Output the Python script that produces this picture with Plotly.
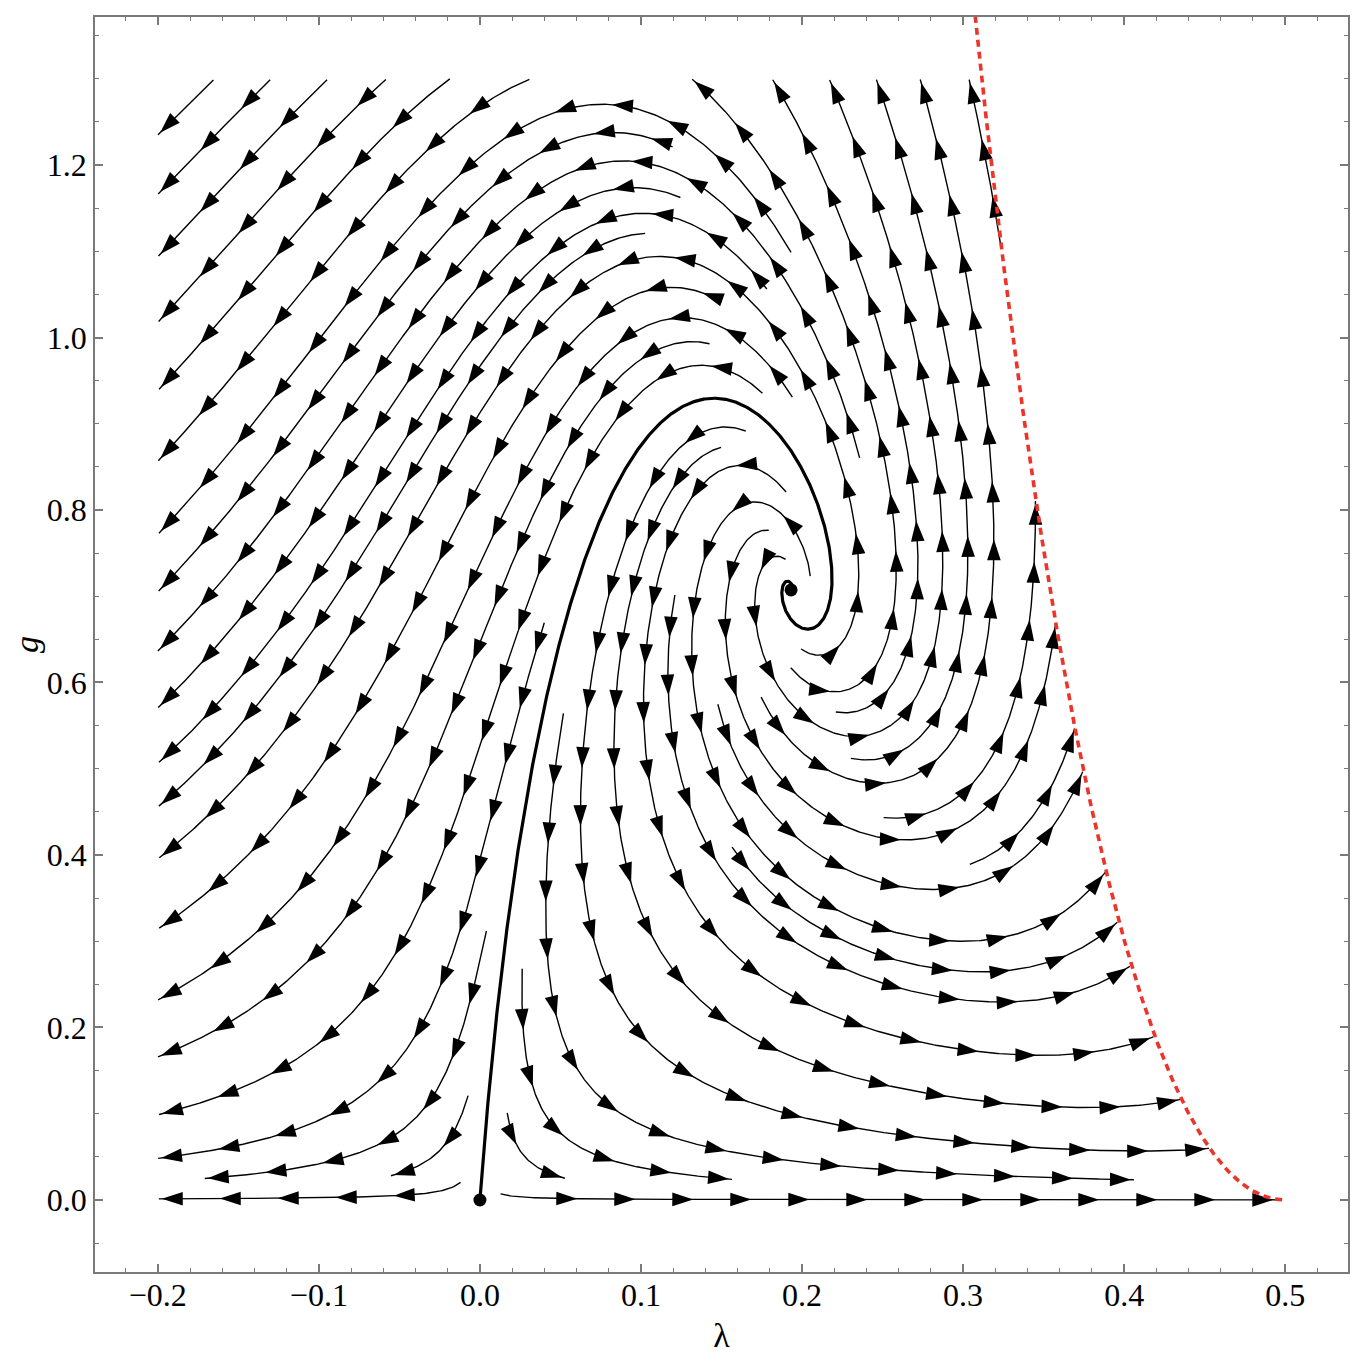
import math
import plotly.graph_objects as go

# ---------------- data ----------------
LAMBDA_RANGE = [-0.239, 0.539]
G_RANGE = [-0.0835, 1.3716]
STREAM_LAMBDA = [-0.2, 0.5]
STREAM_G = [0.0, 1.3]
X_TICK_VALUES = [-0.2, -0.1, 0.0, 0.1, 0.2, 0.3, 0.4, 0.5]
X_TICK_LABELS = ["\u22120.2", "\u22120.1", "0.0", "0.1", "0.2", "0.3", "0.4", "0.5"]
Y_TICK_VALUES = [0.0, 0.2, 0.4, 0.6, 0.8, 1.0, 1.2]
Y_TICK_LABELS = ["0.0", "0.2", "0.4", "0.6", "0.8", "1.0", "1.2"]
FIXED_LAMBDA = [0.0, 0.193]     # Gaussian and non-Gaussian fixed points
FIXED_G = [0.0, 0.707]
SEED_LAMBDA = [-0.1, 0.3, 0.1]
SEED_G = [0.6, 0.3, 1.1]
# Einstein-Hilbert truncation (optimized cutoff) coefficients, w = 1 - 2*lambda
B1_TERMS = [5.0, -9.0, -7.0]    # (1/3pi) * (a/w + b/w^2 + c)
B2_TERMS = [5.0, -6.0]          # -(1/12pi) * (a/w + b/w^2)

# ---------------- geometry ----------------
FIG_W, FIG_H = 1346, 1346
ML, MR, MT, MB = 87, 6, 9, 82
PW, PH = FIG_W - ML - MR, FIG_H - MT - MB
L0, L1 = LAMBDA_RANGE
G0, G1 = G_RANGE
SX = PW / (L1 - L0)
SY = PH / (G1 - G0)

DSEP = 40.0
DTEST = 0.5 * DSEP
STEP = 2.0
MAX_STEPS = 2000
SELF_SKIP = int(2.5 * DSEP / STEP)
MIN_LEN = 22.0
ARROW_SPACING = 58.0
ARROW_END_GAP = 3.0
ARROW_MIN_START = 20.0


def b1(l):
    w = 1.0 - 2.0 * l
    return (B1_TERMS[0] / w + B1_TERMS[1] / w ** 2 + B1_TERMS[2]) / (3.0 * math.pi)


def b2(l):
    w = 1.0 - 2.0 * l
    return -(B2_TERMS[0] / w + B2_TERMS[1] / w ** 2) / (12.0 * math.pi)


def beta(l, g):
    w = 1.0 - 2.0 * l
    eta = g * b1(l) / (1.0 - g * b2(l))
    bl = -(2.0 - eta) * l + g / (2.0 * math.pi) * (5.0 / w - 4.0 - (5.0 / 6.0) * eta / w)
    bg = (2.0 + eta) * g
    return bl, bg


def refine_fp(l, g):
    for _ in range(40):
        f1, f2 = beta(l, g)
        h = 1e-7
        a11 = (beta(l + h, g)[0] - f1) / h
        a21 = (beta(l + h, g)[1] - f2) / h
        a12 = (beta(l, g + h)[0] - f1) / h
        a22 = (beta(l, g + h)[1] - f2) / h
        det = a11 * a22 - a12 * a21
        if abs(det) < 1e-14:
            break
        dl = (a22 * f1 - a12 * f2) / det
        dg = (-a21 * f1 + a11 * f2) / det
        l -= dl
        g -= dg
    return l, g


ngfp_l, ngfp_g = refine_fp(FIXED_LAMBDA[1], FIXED_G[1])


def to_px(l, g):
    return (l - L0) * SX, (g - G0) * SY


def to_data(X, Y):
    return X / SX + L0, Y / SY + G0


FP_PX = [to_px(FIXED_LAMBDA[0], FIXED_G[0]), to_px(ngfp_l, ngfp_g)]


def inside(X, Y):
    l, g = to_data(X, Y)
    if l < STREAM_LAMBDA[0] or l > STREAM_LAMBDA[1] or g < STREAM_G[0] or g > STREAM_G[1]:
        return False
    if 1.0 - 2.0 * l <= 0.01:
        return False
    if 1.0 - g * b2(l) <= 0.003:
        return False
    return True


def near_fp(X, Y, d):
    for fx, fy in FP_PX:
        if (X - fx) ** 2 + (Y - fy) ** 2 < d * d:
            return True
    return False


def direction(X, Y, sgn):
    l, g = to_data(X, Y)
    w = 1.0 - 2.0 * l
    if w <= 0.0 or 1.0 - g * b2(l) == 0.0:
        return None
    bl, bg = beta(l, g)
    vx = -bl * SX * sgn
    vy = -bg * SY * sgn
    n = math.hypot(vx, vy)
    if n < 1e-12 or not math.isfinite(n):
        return None
    return vx / n, vy / n


def rk4(X, Y, sgn, h):
    k1 = direction(X, Y, sgn)
    if k1 is None:
        return None
    k2 = direction(X + 0.5 * h * k1[0], Y + 0.5 * h * k1[1], sgn)
    if k2 is None:
        return None
    k3 = direction(X + 0.5 * h * k2[0], Y + 0.5 * h * k2[1], sgn)
    if k3 is None:
        return None
    k4 = direction(X + h * k3[0], Y + h * k3[1], sgn)
    if k4 is None:
        return None
    if k1[0] * k4[0] + k1[1] * k4[1] < 0.3:
        return None
    dx = (k1[0] + 2 * k2[0] + 2 * k3[0] + k4[0]) / 6.0
    dy = (k1[1] + 2 * k2[1] + 2 * k3[1] + k4[1]) / 6.0
    return X + h * dx, Y + h * dy


grid = {}
line_cells = {}


def cell_of(X, Y):
    return int(math.floor(X / DSEP)), int(math.floor(Y / DSEP))


def add_point(X, Y, lid, idx):
    c = cell_of(X, Y)
    grid.setdefault(c, []).append((X, Y, lid, idx))
    line_cells.setdefault(lid, set()).add(c)


def remove_line(lid):
    for c in line_cells.get(lid, ()):
        grid[c] = [p for p in grid[c] if p[2] != lid]
    line_cells.pop(lid, None)


def too_close(X, Y, d, lid, idx):
    cx, cy = cell_of(X, Y)
    d2 = d * d
    for i in (-1, 0, 1):
        for j in (-1, 0, 1):
            for (px, py, plid, pidx) in grid.get((cx + i, cy + j), ()):
                if plid == lid and abs(pidx - idx) < SELF_SKIP:
                    continue
                if (px - X) ** 2 + (py - Y) ** 2 < d2:
                    return True
    return False


def integrate(seed, sgn, lid):
    pts = []
    X, Y = seed
    for i in range(1, MAX_STEPS):
        nxt = rk4(X, Y, sgn, STEP)
        if nxt is None:
            break
        X, Y = nxt
        if not inside(X, Y) or near_fp(X, Y, 6.0):
            break
        if too_close(X, Y, DTEST, lid, sgn * i):
            break
        pts.append((X, Y))
        add_point(X, Y, lid, sgn * i)
    return pts


def arclen(pts):
    s = 0.0
    for a, b in zip(pts[:-1], pts[1:]):
        s += math.hypot(b[0] - a[0], b[1] - a[1])
    return s


next_id = [1]


def build_line(seed):
    X, Y = seed
    if not inside(X, Y) or near_fp(X, Y, 12.0):
        return None
    if too_close(X, Y, DSEP * 0.98, -1, 0):
        return None
    lid = next_id[0]
    next_id[0] += 1
    add_point(X, Y, lid, 0)
    fwd = integrate(seed, 1, lid)
    bwd = integrate(seed, -1, lid)
    pts = bwd[::-1] + [seed] + fwd
    if arclen(pts) < MIN_LEN:
        remove_line(lid)
        return None
    return pts


def candidates(pts):
    out = []
    for j in range(2, len(pts) - 2, 3):
        x0, y0 = pts[j - 2]
        x1, y1 = pts[j + 2]
        tx, ty = x1 - x0, y1 - y0
        n = math.hypot(tx, ty)
        if n == 0:
            continue
        nx, ny = -ty / n, tx / n
        px, py = pts[j]
        out.append((px + nx * DSEP, py + ny * DSEP))
        out.append((px - nx * DSEP, py - ny * DSEP))
    return out


# ---------------- separatrix GFP -> NGFP ----------------
sep_px = [FP_PX[0]]
g_start = 1e-4
X, Y = to_px(g_start / (8.0 * math.pi), g_start)
sep_px.append((X, Y))
for _ in range(12000):
    nxt = rk4(X, Y, -1, 1.0)
    if nxt is None:
        break
    X, Y = nxt
    sep_px.append((X, Y))
    if (X - FP_PX[1][0]) ** 2 + (Y - FP_PX[1][1]) ** 2 < 2.5 ** 2:
        break
for k, (X, Y) in enumerate(sep_px):
    add_point(X, Y, 0, k * 100000)

# ---------------- evenly spaced streamlines ----------------
lines = []
queue = [sep_px[5:]]
for sl, sg in zip(SEED_LAMBDA, SEED_G):
    ln = build_line(to_px(sl, sg))
    if ln is not None:
        lines.append(ln)
        queue.append(ln)
while queue:
    cur = queue.pop(0)
    for cand in candidates(cur):
        ln = build_line(cand)
        if ln is not None:
            lines.append(ln)
            queue.append(ln)

# ---------------- assemble traces ----------------
line_x, line_y = [], []
arrow_x, arrow_y, arrow_ang = [], [], []
for pts in lines:
    for X, Y in pts:
        l, g = to_data(X, Y)
        line_x.append(l)
        line_y.append(g)
    line_x.append(None)
    line_y.append(None)
    cum = [0.0]
    for a, b in zip(pts[:-1], pts[1:]):
        cum.append(cum[-1] + math.hypot(b[0] - a[0], b[1] - a[1]))
    L = cum[-1]
    s = L - ARROW_END_GAP
    i = len(pts) - 1
    while s >= ARROW_MIN_START:
        while i > 0 and cum[i] > s:
            i -= 1
        j = min(i + 1, len(pts) - 1)
        seg = cum[j] - cum[i]
        t = (s - cum[i]) / seg if seg > 0 else 0.0
        X = pts[i][0] + t * (pts[j][0] - pts[i][0])
        Y = pts[i][1] + t * (pts[j][1] - pts[i][1])
        a = pts[max(i - 2, 0)]
        b = pts[min(i + 3, len(pts) - 1)]
        ang = math.degrees(math.atan2(b[0] - a[0], b[1] - a[1]))
        l, g = to_data(X, Y)
        arrow_x.append(l)
        arrow_y.append(g)
        arrow_ang.append(ang)
        s -= ARROW_SPACING

sep_x, sep_y = [], []
for X, Y in sep_px:
    l, g = to_data(X, Y)
    sep_x.append(l)
    sep_y.append(g)

# singular line eta -> infinity : 1 - g*B2(lambda) = 0
sing_x, sing_y = [], []
n_s = 400
for k in range(n_s + 1):
    l = 0.29 + (0.5 - 0.29) * k / n_s
    w = 1.0 - 2.0 * l
    sing_x.append(l)
    sing_y.append(12.0 * math.pi * w * w / (6.0 - 5.0 * w))

fig = go.Figure()
fig.add_trace(go.Scatter(x=line_x, y=line_y, mode="lines",
                         line=dict(color="black", width=1.4), hoverinfo="skip"))
fig.add_trace(go.Scatter(x=arrow_x, y=arrow_y, mode="markers",
                         marker=dict(symbol="arrow", size=22, angle=arrow_ang,
                                     color="black", line=dict(width=0)),
                         hoverinfo="skip"))
fig.add_trace(go.Scatter(x=sep_x, y=sep_y, mode="lines",
                         line=dict(color="black", width=3.2), hoverinfo="skip"))
fig.add_trace(go.Scatter(x=sing_x, y=sing_y, mode="lines",
                         line=dict(color="rgb(236,52,42)", width=3.6, dash="7px,5px"),
                         hoverinfo="skip"))
fig.add_trace(go.Scatter(x=[FIXED_LAMBDA[0], ngfp_l], y=[FIXED_G[0], ngfp_g], mode="markers",
                         marker=dict(color="black", size=13), hoverinfo="skip"))

axis_common = dict(
    showgrid=False, zeroline=False, showline=True, linecolor="#7a7a7a", linewidth=1.5,
    ticks="inside", ticklen=8, tickwidth=1.5, tickcolor="#7a7a7a", mirror="allticks",
    tickfont=dict(family="Liberation Serif", size=32, color="black"),
    automargin=False,
)
fig.update_layout(
    width=FIG_W, height=FIG_H,
    margin=dict(l=ML, r=MR, t=MT, b=MB),
    paper_bgcolor="white", plot_bgcolor="white",
    showlegend=False,
    xaxis=dict(range=LAMBDA_RANGE, tickmode="array", tickvals=X_TICK_VALUES, ticktext=X_TICK_LABELS,
               ticklabelstandoff=-6,
               minor=dict(tick0=0, dtick=0.02, ticklen=4, tickwidth=1.2, tickcolor="#7a7a7a", ticks="inside"),
               title=dict(text="\u03bb", standoff=14,
                          font=dict(family="Liberation Serif", size=34, color="black")),
               **axis_common),
    yaxis=dict(range=G_RANGE, tickmode="array", tickvals=Y_TICK_VALUES, ticktext=Y_TICK_LABELS,
               minor=dict(tick0=0, dtick=0.05, ticklen=4, tickwidth=1.2, tickcolor="#7a7a7a", ticks="inside"),
               title=dict(text="<i>g</i>", standoff=8,
                          font=dict(family="Liberation Serif", size=34, color="black")),
               **axis_common),
)
fig.write_html("out.html")
